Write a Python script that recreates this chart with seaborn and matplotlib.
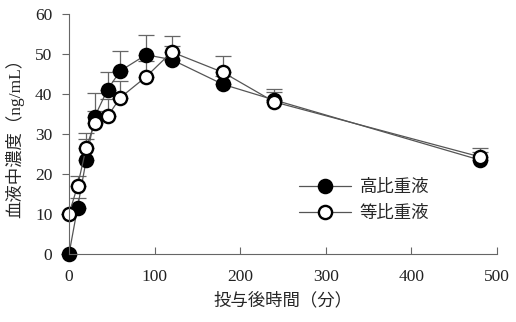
import matplotlib
matplotlib.use("Agg")
import matplotlib.pyplot as plt
import seaborn as sns
import pandas as pd
from matplotlib.lines import Line2D

# Sampling times (min) and mean plasma concentrations (ng/mL)
times = [0, 10, 20, 30, 45, 60, 90, 120, 180, 240, 480]
high_mean = [0, 11.6, 23.4, 34.3, 41.1, 45.8, 49.8, 48.6, 42.4, 38.5, 23.5]
high_sd = [0, 2.5, 5.3, 6.0, 4.5, 5.0, 4.9, 3.4, 2.0, 2.0, 2.0]
iso_mean = [10.0, 17.0, 26.5, 32.7, 34.4, 39.1, 44.3, 50.5, 45.4, 38.0, 24.3]
iso_sd = [0, 2.5, 3.7, 3.1, 4.3, 4.2, 3.9, 4.0, 4.2, 3.2, 2.2]
series_names = ["高比重液", "等比重液"]

x_ticks = [0, 100, 200, 300, 400, 500]
y_ticks = [0, 10, 20, 30, 40, 50, 60]

sns.set_theme(style="white")
plt.rcParams["font.family"] = ["Liberation Serif", "Noto Sans CJK JP"]

fig = plt.figure(figsize=(5.16, 3.22), dpi=100)
ax = fig.add_axes([69 / 516, 1 - 254 / 322, 428 / 516, 240 / 322])

line_col = "#555555"
msize = 9.5
styles = [
    dict(mean=high_mean, sd=high_sd, face="black"),
    dict(mean=iso_mean, sd=iso_sd, face="white"),
]

for name, st in zip(series_names, styles):
    df = pd.DataFrame({"t": times, "c": st["mean"]})
    ax.errorbar(times, st["mean"], yerr=[[0] * len(times), st["sd"]],
                fmt="none", ecolor="#666666", elinewidth=0.9,
                capsize=6, capthick=0.9, zorder=1)
    sns.lineplot(data=df, x="t", y="c", ax=ax, color=line_col, lw=0.9,
                 marker="o", markersize=msize, markerfacecolor=st["face"],
                 markeredgecolor="black", markeredgewidth=1.7,
                 zorder=2, label=name)

for ln in ax.lines:
    ln.set_clip_on(False)

ax.set_xlim(0, 500)
ax.set_ylim(0, 60)
ax.set_xticks(x_ticks)
ax.set_yticks(y_ticks)
ax.tick_params(axis="x", direction="in", length=5, width=0.8, color="#666666",
               labelsize=12.5, pad=11, bottom=True)
ax.tick_params(axis="y", direction="out", length=5, width=0.8, color="#666666",
               labelsize=12.5, pad=7, left=True)
for s in ["top", "right"]:
    ax.spines[s].set_visible(False)
for s in ["left", "bottom"]:
    ax.spines[s].set_color("#666666")
    ax.spines[s].set_linewidth(0.8)

ax.set_xlabel("投与後時間（分）", fontsize=12.5, labelpad=5)
ax.set_ylabel("血液中濃度（ng/mL）", fontsize=12.5, labelpad=8)
for t in ax.get_xticklabels() + ax.get_yticklabels():
    t.set_color("#222222")

handles = [
    Line2D([], [], color=line_col, lw=0.9, marker="o", markersize=msize,
           markerfacecolor="black", markeredgecolor="black", markeredgewidth=1.7),
    Line2D([], [], color=line_col, lw=0.9, marker="o", markersize=msize,
           markerfacecolor="white", markeredgecolor="black", markeredgewidth=1.7),
]
ax.legend(handles, series_names, loc="center left",
          bbox_to_anchor=(0.50, 0.22), frameon=False, fontsize=12.5,
          handlelength=3.0, handletextpad=0.5, labelspacing=0.55)

fig.savefig("out.png", dpi=100)
